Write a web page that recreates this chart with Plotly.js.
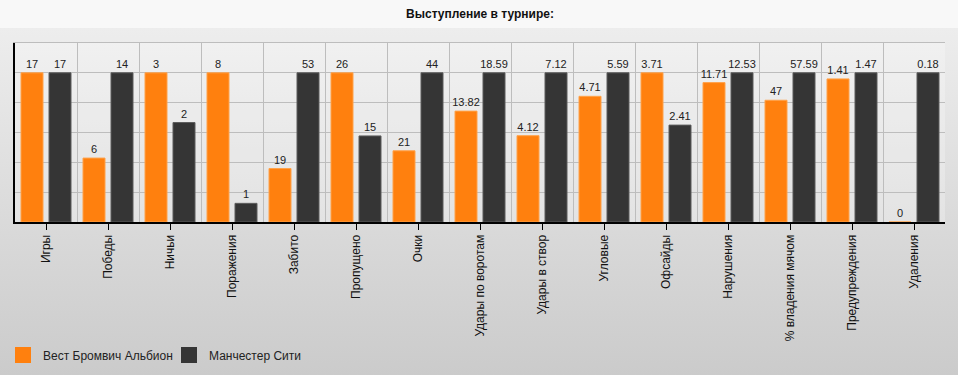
<!DOCTYPE html>
<html>
<head>
<meta charset="utf-8">
<script src="https://cdn.plot.ly/plotly-3.0.1.min.js"></script>
<style>
html,body{margin:0;padding:0;}
body{width:958px;height:375px;overflow:hidden;
background:linear-gradient(to bottom,#f8f8f8 0px,#f8f8f8 28px,#ededed 28px,#cbcbcb 375px);}
#chart{width:958px;height:375px;}
</style>
</head>
<body>
<div id="chart"></div>
<script>
const categories = ['Игры','Победы','Ничьи','Поражения','Забито','Пропущено','Очки','Удары по воротам','Удары в створ','Угловые','Офсайды','Нарушения','% владения мячом','Предупреждения','Удаления'];
const wbaValues = [17, 6, 3, 8, 19, 26, 21, 13.82, 4.12, 4.71, 3.71, 11.71, 47, 1.41, 0];
const cityValues = [17, 14, 2, 1, 53, 15, 44, 18.59, 7.12, 5.59, 2.41, 12.53, 57.59, 1.47, 0.18];
const seriesNames = ['Вест Бромвич Альбион', 'Манчестер Сити'];
const chartTitle = 'Выступление в турнире:';

// each category is scaled so its larger value fills the full height
const maxes = categories.map((c, i) => Math.max(wbaValues[i], cityValues[i]) || 1);
const norm = arr => arr.map((v, i) => v / maxes[i]);

const FONT = '"Liberation Sans", Arial, sans-serif';
const ORANGE = '#ff800e', DARK = '#353535';

const traces = [
  {type:'bar', x:categories, y:norm(wbaValues), text:wbaValues.map(String),
   textposition:'outside', textfont:{size:11, color:'#222', family:FONT},
   cliponaxis:false, constraintext:'none',
   marker:{color:ORANGE, line:{color:'#ffa24a', width:1}}, showlegend:false, hoverinfo:'skip'},
  {type:'bar', x:categories, y:norm(cityValues), text:cityValues.map(String),
   textposition:'outside', textfont:{size:11, color:'#222', family:FONT},
   cliponaxis:false, constraintext:'none',
   marker:{color:DARK, line:{color:'#5c5c5c', width:1}}, showlegend:false, hoverinfo:'skip'},
  {type:'scatter', mode:'markers', x:[null], y:[null], xaxis:'x2', name:seriesNames[0],
   marker:{symbol:'square', size:16, color:ORANGE}},
  {type:'scatter', mode:'markers', x:[null], y:[null], xaxis:'x2', name:seriesNames[1],
   marker:{symbol:'square', size:16, color:DARK}}
];

const layout = {
  width:958, height:375,
  margin:{l:15, r:13, t:43, b:153},
  paper_bgcolor:'rgba(0,0,0,0)',
  plot_bgcolor:'rgba(255,255,255,0.25)',
  font:{family:FONT, size:12, color:'#111'},
  title:{text:'<b>'+chartTitle+'</b>', font:{size:12, color:'#111', family:FONT},
         x:0.5, xref:'paper', xanchor:'center', y:1-14/375, yref:'container', yanchor:'middle'},
  barmode:'group', bargap:0.097, bargroupgap:0.214,
  xaxis:{type:'category', showgrid:false, ticks:'outside', ticklen:6, tickcolor:'#000', tickwidth:1,
         tickangle:-90, tickfont:{size:12, color:'#111', family:FONT},
         showline:true, linecolor:'#000', linewidth:2, zeroline:false, fixedrange:true},
  xaxis2:{overlaying:'x', range:[-0.5, 14.5], tick0:0.5, dtick:1, showgrid:true, gridcolor:'#bdbdbd',
          gridwidth:1, showticklabels:false, ticks:'', zeroline:false, side:'top',
          showline:true, linecolor:'#bdbdbd', linewidth:1, fixedrange:true},
  yaxis:{range:[0, 1.2], dtick:0.2, showgrid:true, gridcolor:'#bdbdbd', gridwidth:1,
         showticklabels:false, ticks:'', zeroline:false,
         showline:true, linecolor:'#000', linewidth:2, fixedrange:true},
  yaxis2:{overlaying:'y', side:'right', range:[0,1.2], showgrid:false, showticklabels:false,
          ticks:'', zeroline:false, showline:true, linecolor:'#bdbdbd', linewidth:1, fixedrange:true},
  showlegend:true,
  legend:{orientation:'h', xref:'container', x:3/958, xanchor:'left', yref:'container', y:20/375, yanchor:'middle',
          font:{size:12, color:'#222', family:FONT}, bgcolor:'rgba(0,0,0,0)', itemsizing:'trace',
          entrywidth:121, entrywidthmode:'pixels', traceorder:'normal'}
};

Plotly.newPlot('chart', traces, layout, {displayModeBar:false, staticPlot:true});
</script>
</body>
</html>
